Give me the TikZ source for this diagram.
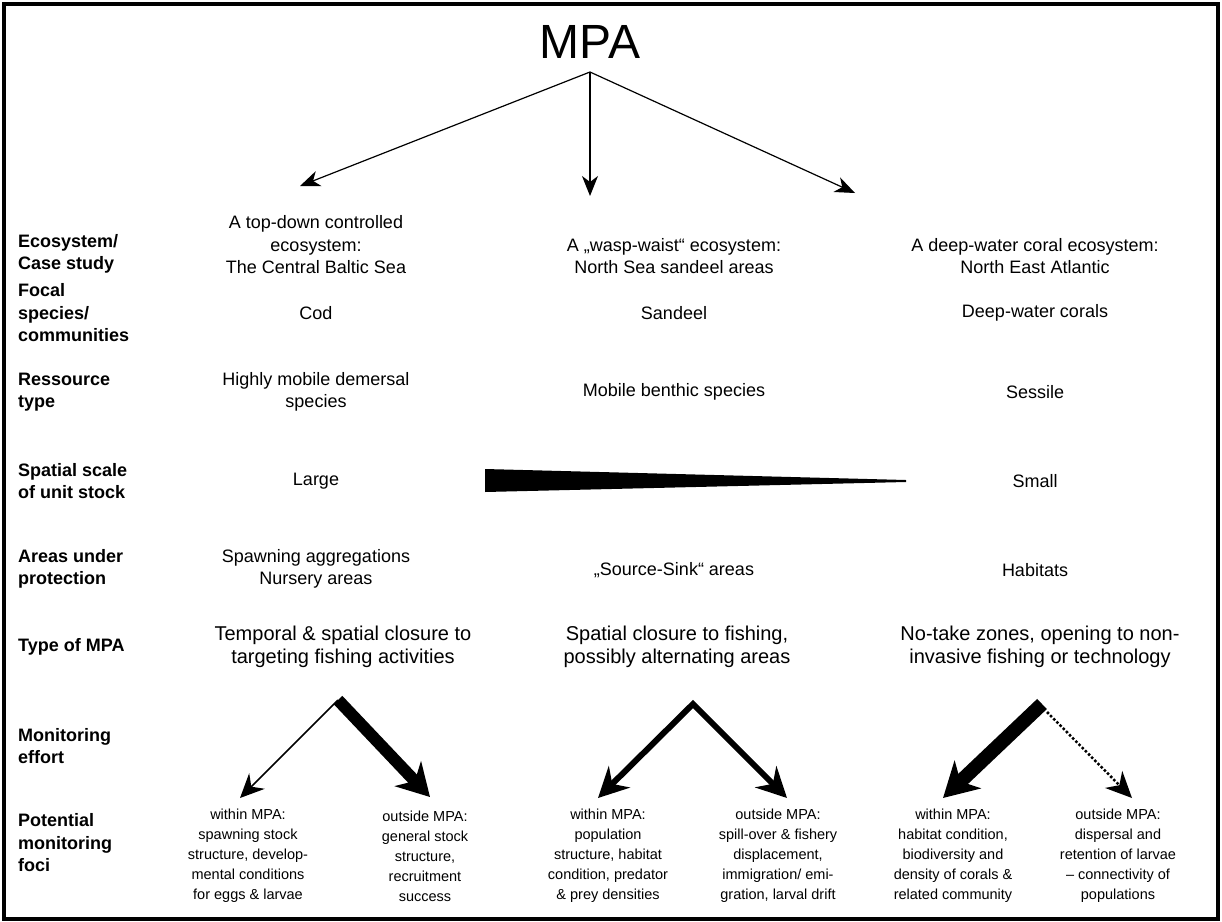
\documentclass[tikz,border=0pt]{standalone}
\usepackage{fontspec}
\setmainfont{Liberation Sans}
\usetikzlibrary{arrows.meta}
\begin{document}
\begin{tikzpicture}[x=1pt,y=-1pt,
  rowlabel/.style={anchor=west,align=left,inner sep=0pt,font=\fontsize{18}{22.5}\selectfont\bfseries},
  cell/.style={align=center,inner sep=0pt,font=\fontsize{18}{22.5}\selectfont},
  typecell/.style={align=center,inner sep=0pt,font=\fontsize{20}{23}\selectfont},
  focus/.style={align=center,inner sep=0pt,font=\fontsize{14.5}{20}\selectfont},
  toparrow/.style={line width=1.2pt,-{Stealth[length=20pt,width=16pt,inset=6pt]}},
  thinarrow/.style={line width=1.5pt,-{Stealth[length=24pt,width=22pt,inset=8pt]}},
  medarrow/.style={line width=6pt,miter limit=10,{Stealth[length=30pt,width=30pt,inset=10pt]}-{Stealth[length=30pt,width=30pt,inset=10pt]}},
  heavyarrow/.style={line width=12pt,-{Stealth[length=32pt,width=36pt,inset=10pt]}},
  dotarrow/.style={line width=2.5pt,dotted,-{Stealth[length=26pt,width=24pt,inset=8pt]}}
]
\useasboundingbox (0,0) rectangle (1222,921);
% outer frame
\draw[line width=3.5pt] (4,4) rectangle (1218,919);

% root
\node[inner sep=0pt,font=\fontsize{48}{48}\selectfont] (mpa) at (590,42) {MPA};
\coordinate (root) at (590,72);

% row labels
\node[rowlabel] (lEco)   at (18,254) {Ecosystem/\\Case study};
\node[rowlabel] (lFocal) at (18,313) {Focal\\species/\\communities};
\node[rowlabel] (lRes)   at (18,392) {Ressource\\type};
\node[rowlabel] (lScale) at (18,481) {Spatial scale\\of unit stock};
\node[rowlabel] (lArea)  at (18,569) {Areas under\\protection};
\node[rowlabel] (lType)  at (18,647) {Type of MPA};
\node[rowlabel] (lEff)   at (18,746) {Monitoring\\effort};
\node[rowlabel] (lFoci)  at (18,843) {Potential\\monitoring\\foci};

% case studies
\node[cell] (eco1) at (316,245) {A top-down controlled\\ecosystem:\\The Central Baltic Sea};
\node[cell] (eco2) at (674,256) {A „wasp-waist“ ecosystem:\\North Sea sandeel areas};
\node[cell] (eco3) at (1035,256) {A deep-water coral ecosystem:\\North East Atlantic};

\node[cell] (foc1) at (316,313) {Cod};
\node[cell] (foc2) at (674,313) {Sandeel};
\node[cell] (foc3) at (1035,313) {Deep-water corals};

\node[cell] (res1) at (316,392) {Highly mobile demersal\\species};
\node[cell] (res2) at (674,392) {Mobile benthic species};
\node[cell] (res3) at (1035,392) {Sessile};

\node[cell] (sc1) at (316,481) {Large};
\node[cell] (sc3) at (1035,481) {Small};
% tapering wedge between large and small
\fill (485,469) -- (906,480) -- (906,482) -- (485,492) -- cycle;

\node[cell] (ar1) at (316,569) {Spawning aggregations\\Nursery areas};
\node[cell] (ar2) at (674,570) {„Source-Sink“ areas};
\node[cell] (ar3) at (1035,570) {Habitats};

\node[typecell] (ty1) at (343,647) {Temporal \& spatial closure to\\targeting fishing activities};
\node[typecell] (ty2) at (677,647) {Spatial closure to fishing,\\possibly alternating areas};
\node[typecell] (ty3) at (1040,647) {No-take zones, opening to non-\\invasive fishing or technology};

% top-level arrows
\coordinate (t1) at (300,186);
\coordinate (t2) at (590,196);
\coordinate (t3) at (855,193);
\draw[toparrow] (root) -- (t1);
\draw[toparrow] (root) -- (t2);
\draw[toparrow] (root) -- (t3);

% monitoring foci
\node[focus] (f1a) at (248,856) {within MPA:\\spawning stock\\structure, develop-\\mental conditions\\for eggs \& larvae};
\node[focus] (f1b) at (425,856) {outside MPA:\\general stock\\structure,\\recruitment\\success};
\node[focus] (f2a) at (608,856) {within MPA:\\population\\structure, habitat\\condition, predator\\\& prey densities};
\node[focus] (f2b) at (778,856) {outside MPA:\\spill-over \& fishery\\displacement,\\immigration/ emi-\\gration, larval drift};
\node[focus] (f3a) at (953,856) {within MPA:\\habitat condition,\\biodiversity and\\density of corals \&\\related community};
\node[focus] (f3b) at (1118,856) {outside MPA:\\dispersal and\\retention of larvae\\– connectivity of\\populations};

% monitoring effort arrows
\coordinate (a1) at (338,700);
\coordinate (a1l) at (240,798);
\coordinate (a1r) at (430,797);
\draw[thinarrow] (a1) -- (a1l);
\draw[heavyarrow] (a1) -- (a1r);

\coordinate (a2) at (693,704);
\coordinate (a2l) at (598,798);
\coordinate (a2r) at (787,798);
\draw[medarrow] (a2l) -- (a2) -- (a2r);

\coordinate (a3) at (1042,704);
\coordinate (a3l) at (943,798);
\coordinate (a3s) at (1047,712);
\coordinate (a3r) at (1132,798);
\draw[line width=14pt,-{Stealth[length=34pt,width=38pt,inset=10pt]}] (a3) -- (a3l);
\draw[dotarrow] (a3s) -- (a3r);
\end{tikzpicture}
\end{document}
